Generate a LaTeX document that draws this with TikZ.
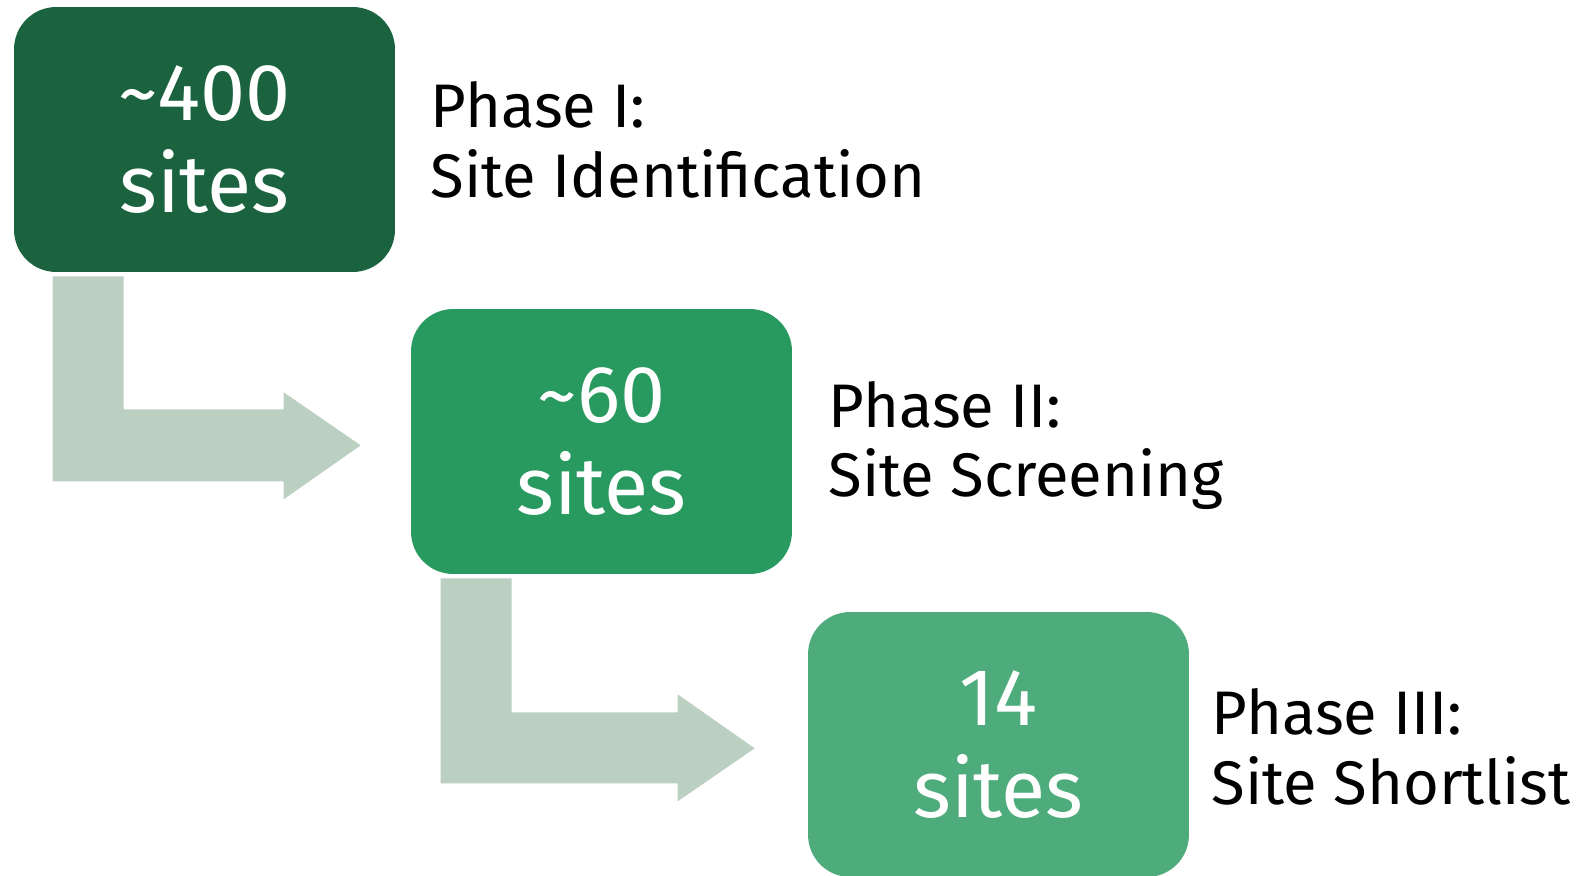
\documentclass[tikz,border=0pt]{standalone}
\usepackage{fontspec}
\setmainfont{Fira Sans}
\usetikzlibrary{positioning}

\definecolor{darkgreen}{RGB}{27,99,63}
\definecolor{midgreen}{RGB}{40,154,96}
\definecolor{lightgreen}{RGB}{78,171,124}
\definecolor{arrowgray}{RGB}{188,208,194}

\tikzset{
  sitebox/.style={fill=#1, text=white, rounded corners=24pt, minimum width=7.62cm,
    minimum height=5.3cm, align=center, inner sep=0pt, font=\fontsize{46}{52.7}\selectfont},
  phaselabel/.style={align=left, inner sep=0pt, anchor=west, font=\fontsize{35}{39.7}\selectfont},
  bentarrow/.style={fill=arrowgray}
}

\begin{document}
\begin{tikzpicture}[x=0.02cm, y=-0.02cm]
    \useasboundingbox (0,0) rectangle (1581,875);

    \node[sitebox=darkgreen] (b1) at (204.5,139.5) {\textasciitilde400\\sites};
    \node[sitebox=midgreen] (b2) at (601.5,441.5) {\textasciitilde60\\sites};
    \node[sitebox=lightgreen] (b3) at (998.5,744.5) {14\\sites};

    % bent arrows below each box
    \fill[bentarrow] ([xshift=0.78cm,yshift=-0.08cm]b1.south west) -- ++(71,0) -- ++(0,133)
        -- ++(160,0) -- ++(0,-17) -- ++(77,53) -- ++(-77,54) -- ++(0,-18) -- ++(-231,0) -- cycle;
    \fill[bentarrow] ([xshift=0.6cm,yshift=-0.08cm]b2.south west) -- ++(71,0) -- ++(0,134)
        -- ++(166,0) -- ++(0,-18) -- ++(77,54) -- ++(-77,53) -- ++(0,-18) -- ++(-237,0) -- cycle;

    \node[phaselabel, right=0.7cm of b1] (p1) {Phase I:\\Site Identification};
    \node[phaselabel, right=0.72cm of b2, yshift=-0.08cm] (p2) {Phase II:\\Site Screening};
    \node[phaselabel, right=0.44cm of b3, yshift=-0.04cm] (p3) {Phase III:\\Site Shortlist};
\end{tikzpicture}
\end{document}
